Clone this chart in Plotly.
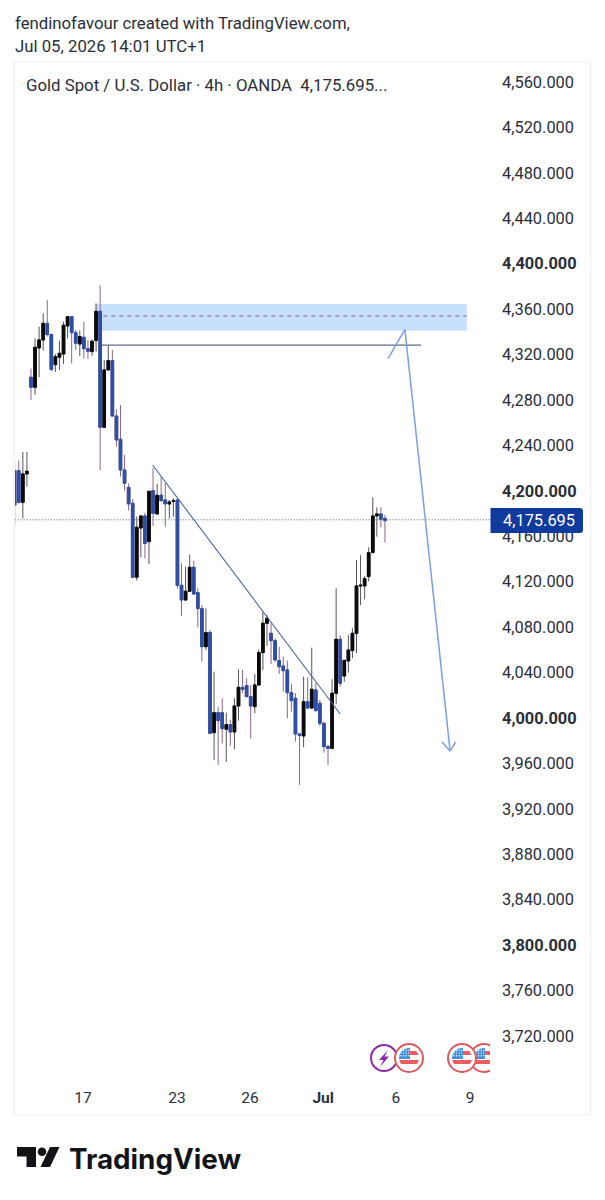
import base64
import plotly.graph_objects as go

W, H = 605, 1200

open_prices = [4217.8,4217.8,4189.9,4214.9,4300.0,4291.2,4325.8,4332.9,4347.5,4337.6,4311.1,4317.6,4320.5,4345.2,4353.4,4339.3,4329.3,4335.2,4325.2,4322.6,
4332.3,4358.1,4256.0,4306.5,4314.7,4265.9,4245.4,4218.4,4203.1,4189.0,4123.9,4167.3,4177.9,4155.3,4200.2,4179.7,4196.1,4192.0,4188.5,4190.8,
4192.0,4116.8,4103.9,4111.6,4132.7,4110.4,4096.3,4062.8,4075.2,3987.1,4004.7,4004.7,3990.1,3994.2,3987.7,4010.6,4027.0,4028.5,4018.8,4010.0,
4029.1,4057.6,4083.4,4074.6,4068.1,4050.5,4045.8,4042.3,4022.3,4017.4,3985.9,3984.2,4014.4,4008.8,4024.7,4012.9,3995.3,3974.8,3973.3,4021.8,
4069.3,4037.0,4050.2,4059.3,4074.6,4116.3,4116.3,4124.5,4145.6,4177.9,4179.7,4175.7]
high_prices = [4224.9,4226.6,4234.2,4234.2,4307.6,4334.3,4344.6,4356.3,4368.1,4338.5,4320.5,4332.3,4349.0,4353.4,4353.4,4341.7,4341.1,4348.7,4332.9,4333.5,
4365.1,4381.0,4315.3,4328.5,4324.1,4271.8,4275.6,4231.6,4206.7,4192.6,4177.3,4177.9,4180.8,4199.6,4220.2,4206.1,4212.5,4206.7,4192.0,4193.7,
4193.5,4136.2,4133.3,4143.9,4138.6,4114.2,4099.5,4096.6,4077.5,4040.8,4010.0,4017.4,4004.7,3998.3,4017.4,4042.9,4042.3,4035.0,4029.1,4038.8,
4060.5,4093.7,4090.7,4083.4,4070.2,4062.8,4054.0,4050.5,4030.0,4021.8,3986.5,4036.4,4035.8,4062.0,4030.6,4015.9,3996.8,3976.3,4034.1,4114.2,
4073.1,4051.1,4073.1,4079.0,4139.2,4143.3,4125.1,4150.3,4194.3,4185.5,4185.5,4178.8]
low_prices = [4169.1,4189.0,4175.6,4203.7,4280.0,4284.7,4300.0,4323.5,4335.8,4305.3,4304.7,4306.5,4311.7,4334.3,4312.3,4324.1,4318.8,4316.4,4316.4,4318.8,
4322.6,4218.4,4255.5,4305.9,4265.4,4238.9,4212.5,4200.2,4182.6,4123.0,4121.0,4141.5,4140.6,4135.6,4169.1,4178.8,4190.5,4168.5,4175.6,4177.3,
4114.2,4089.8,4103.3,4111.0,4108.3,4079.9,4049.6,4059.9,3985.9,3963.1,3958.7,3977.7,3961.3,3975.4,3972.4,3997.7,4021.8,4018.2,3982.1,4004.1,
4028.2,4042.3,4063.4,4047.6,4049.6,4038.8,4023.2,3999.7,4005.6,3979.2,3941.0,3974.2,4008.2,4008.2,4005.6,3993.0,3969.5,3958.7,3972.4,4012.4,
4027.6,4032.0,4040.0,4052.6,4057.0,4099.5,4104.5,4120.1,4145.6,4159.7,4167.9,4154.4]
close_prices = [4187.6,4189.9,4214.9,4217.2,4291.2,4326.4,4332.9,4347.5,4337.6,4307.0,4318.2,4321.1,4345.8,4353.4,4339.3,4329.9,4335.8,4325.2,4322.9,4331.7,
4358.1,4256.0,4306.5,4314.7,4265.9,4244.8,4218.4,4206.7,4188.5,4123.9,4167.9,4177.9,4153.8,4199.6,4180.2,4196.1,4191.4,4188.5,4190.2,4191.4,
4116.8,4103.9,4111.6,4132.7,4109.2,4096.3,4062.8,4075.2,3986.5,4004.7,3997.7,3990.6,3994.2,3987.7,4010.6,4027.0,4025.3,4018.8,4010.6,4029.1,
4057.6,4083.4,4087.8,4068.1,4051.1,4045.2,4041.7,4022.3,4015.3,3985.9,3984.5,4014.4,4008.8,4025.3,4006.5,3995.3,3974.8,3973.3,4021.8,4069.3,
4030.6,4050.8,4059.9,4074.6,4116.3,4116.9,4122.7,4145.6,4177.9,4179.7,4175.0,4173.8]
candle_index = list(range(len(open_prices)))

price_ticks = [3720,3760,3800,3840,3880,3920,3960,4000,4040,4080,4120,4160,4200,4240,4280,4320,4360,4400,4440,4480,4520,4560]
bold_prices = [3800,4000,4200,4400]
date_tick_positions = [16.8,39.9,57.8,75.8,93.7,111.9]
date_tick_labels = ["17","23","26","<b>Jul</b>","6","9"]

last_price = 4175.695
last_price_line = 4174.5
zone_top, zone_bottom, zone_mid = 4364.5, 4341.0, 4354.0
zone_x = [19.8, 111.1]
level_price = 4328.4
level_x = [21.4, 99.9]
trend_x = [33.9, 80.0]
trend_y = [4222.8, 4003.5]
arrow_x = [91.8, 95.9, 107.0]
arrow_y = [4316.7, 4342.2, 3971.0]
head_x = [105.0, 107.0, 108.4]
head_y = [3978.9, 3971.0, 3978.9]

BLUE, BLACK = "#2f4fa5", "#0b0b0d"
WICK_UP, WICK_DOWN = "#55555b", "#86688a"
TEXT = "#2a2e39"
FONT = "Roboto"

PX_LEFT, PX_RIGHT, PX_TOP, PX_BOTTOM = 15, 490, 62, 1080
X_RANGE = [(PX_LEFT - 14.7) / 4.069, (PX_RIGHT - 14.7) / 4.069]
def px_price(py):
    return 4560 - (py - 82) / 1.1357

fig = go.Figure()
fig.add_trace(go.Candlestick(
    x=candle_index, open=open_prices, high=high_prices, low=low_prices, close=close_prices,
    whiskerwidth=0, hoverinfo="skip",
    increasing=dict(line=dict(color=WICK_UP, width=1), fillcolor=WICK_UP),
    decreasing=dict(line=dict(color=WICK_DOWN, width=1), fillcolor=WICK_DOWN),
    showlegend=False))
fig.add_trace(go.Candlestick(
    x=candle_index, open=open_prices, close=close_prices,
    high=[max(a, b) for a, b in zip(open_prices, close_prices)],
    low=[min(a, b) for a, b in zip(open_prices, close_prices)],
    whiskerwidth=0, hoverinfo="skip",
    increasing=dict(line=dict(color=BLACK, width=1), fillcolor=BLACK),
    decreasing=dict(line=dict(color=BLUE, width=1), fillcolor=BLUE),
    showlegend=False))

shapes = [
    dict(type="rect", xref="paper", yref="paper", x0=14/W, x1=590.5/W, y0=1-1115/H, y1=1-62/H,
         line=dict(color="#eff0f2", width=1.2), layer="below"),
    dict(type="rect", x0=zone_x[0], x1=zone_x[1], y0=zone_bottom, y1=zone_top, xref="x", yref="y",
         fillcolor="#c6e0fb", line=dict(width=0), layer="below"),
    dict(type="line", x0=zone_x[0], x1=zone_x[1], y0=zone_mid, y1=zone_mid, xref="x", yref="y",
         line=dict(color="#85608f", width=1, dash="4px,4px"), layer="below"),
    dict(type="line", x0=level_x[0], x1=level_x[1], y0=level_price, y1=level_price, xref="x", yref="y",
         line=dict(color="#5f6b85", width=1.2), layer="above"),
    dict(type="line", x0=trend_x[0], x1=trend_x[1], y0=trend_y[0], y1=trend_y[1], xref="x", yref="y",
         line=dict(color="#4d62a0", width=1.1), layer="above"),
    dict(type="line", x0=0, x1=X_RANGE[1], y0=last_price_line, y1=last_price_line, xref="x", yref="y",
         line=dict(color="#5f636b", width=1, dash="1px,2px"), layer="below"),
    # last price box, above the axis labels
    dict(type="path", xref="paper", yref="paper", layer="above", fillcolor="#0f3a9e", line=dict(width=0),
         path="M %f %f L %f %f Q %f %f %f %f L %f %f Q %f %f %f %f L %f %f Z" % (
             490.5/W, 1-508/H, 580/W, 1-508/H, 583/W, 1-508/H, 583/W, 1-511/H,
             583/W, 1-530/H, 583/W, 1-533/H, 580/W, 1-533/H, 490.5/W, 1-533/H)),
]
for xs, ys in ((arrow_x, arrow_y), (head_x, head_y)):
    for i in range(len(xs) - 1):
        shapes.append(dict(type="line", x0=xs[i], x1=xs[i+1], y0=ys[i], y1=ys[i+1], xref="x", yref="y",
                           line=dict(color="#7b9fe2", width=1.5), layer="above"))

def note(text, px, py, size, color=TEXT, family=FONT, anchor="left"):
    return dict(text=text, x=px/W, y=1-py/H, xref="paper", yref="paper", xanchor=anchor, yanchor="middle",
                showarrow=False, align="left", font=dict(family=family, size=size, color=color),
                borderpad=0, borderwidth=0)

annotations = [
    note("fendinofavour created with TradingView.com,", 15, 22.5, 16.75),
    note("Jul 05, 2026 14:01 UTC+1", 15, 46, 16.75),
    note("Gold Spot / U.S. Dollar · 4h · OANDA  4,175.695...", 26, 85, 16.8),
    note(f"{last_price:,.3f}", 503, 520, 16.4, color="#ffffff"),
    note("<b>TradingView</b>", 68.5, 1158.5, 27.8, color="#131417", family="Inter, Roboto"),
]

def svg_uri(body, w, h):
    svg = f'<svg xmlns="http://www.w3.org/2000/svg" width="{w}" height="{h}" viewBox="0 0 {w} {h}">{body}</svg>'
    return "data:image/svg+xml;base64," + base64.b64encode(svg.encode()).decode()

def flag(cx, cy, cid):
    dots = "".join(f'<circle cx="{cx-8+i*2.6}" cy="{cy-7.5+j*2.6}" r="0.7" fill="#fff"/>' for i in range(4) for j in range(3))
    return (f'<clipPath id="{cid}"><circle cx="{cx}" cy="{cy}" r="10"/></clipPath>'
            f'<circle cx="{cx}" cy="{cy}" r="14" fill="#fff" stroke="#df5a60" stroke-width="2"/>'
            f'<g clip-path="url(#{cid})"><rect x="{cx-10}" y="{cy-10}" width="20" height="20" fill="#fff"/>'
            f'<rect x="{cx-10}" y="{cy-10}" width="11" height="11" fill="#3d8fe0"/>'
            f'<rect x="{cx+1}" y="{cy-7}" width="9" height="4" fill="#ee5a5f"/>'
            f'<rect x="{cx-10}" y="{cy+2}" width="20" height="4" fill="#ee5a5f"/>{dots}</g>')

icon_body = (
    '<circle cx="14" cy="15" r="13" fill="#fff" stroke="#8e2aa8" stroke-width="2"/>'
    '<path d="M18 7 L9 17 L13.5 17 L10 24 L19 13.5 L14.5 13.5 Z" fill="#8e2aa8"/>'
    + flag(39, 15, "a") + flag(114, 15, "c") + flag(92, 15, "b"))
logo_body = (
    '<path d="M0 0 H19 V20 H9.5 V9.5 H0 Z" fill="#131417"/>'
    '<circle cx="25" cy="4.7" r="4.3" fill="#131417"/>'
    '<path d="M33 0 H42.5 L33 20 H23.5 Z" fill="#131417"/>')

images = [
    dict(source=svg_uri(icon_body, 120, 30), xref="paper", yref="paper", x=370/W, y=1-1043/H,
         sizex=120/W, sizey=30/H, xanchor="left", yanchor="top", sizing="stretch", layer="above"),
    dict(source=svg_uri(logo_body, 43, 21), xref="paper", yref="paper", x=17/W, y=1-1147/H,
         sizex=43/W, sizey=21/H, xanchor="left", yanchor="top", sizing="stretch", layer="above"),
]

fig.update_layout(
    width=W, height=H, autosize=False,
    margin=dict(l=0, r=0, t=0, b=0),
    paper_bgcolor="#ffffff", plot_bgcolor="#ffffff",
    boxmode="overlay", boxgap=0.08, showlegend=False,
    font=dict(family=FONT, color=TEXT),
    shapes=shapes, annotations=annotations, images=images,
    xaxis=dict(domain=[PX_LEFT/W, PX_RIGHT/W], range=X_RANGE, rangeslider=dict(visible=False),
               showgrid=False, zeroline=False, showline=False, ticks="",
               tickmode="array", tickvals=date_tick_positions, ticktext=date_tick_labels,
               tickfont=dict(family=FONT, size=15.5, color=TEXT), ticklabelstandoff=6),
    yaxis=dict(domain=[1-PX_BOTTOM/H, 1-PX_TOP/H], range=[px_price(PX_BOTTOM), px_price(PX_TOP)],
               side="right", showgrid=False, zeroline=False, showline=False, ticks="",
               tickmode="array", tickvals=price_ticks,
               ticktext=[(f"<b>{p:,.3f}</b>" if p in bold_prices else f"{p:,.3f}") for p in price_ticks],
               tickfont=dict(family=FONT, size=16.4, color=TEXT), ticklabelstandoff=11),
)

fig.write_html("out.html", config=dict(displayModeBar=False),
               post_script="document.body.style.margin='0';")
